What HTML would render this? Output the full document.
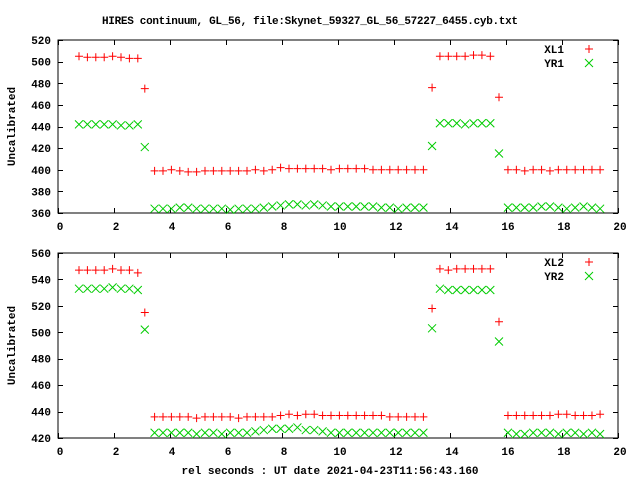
<!DOCTYPE html>
<html><head><meta charset="utf-8"><style>
body{margin:0;background:#fff}
svg{display:block}
text{font-family:"Liberation Mono",monospace;font-weight:bold;font-size:11px;fill:#000}
</style></head><body>
<svg id="c" width="640" height="480" xmlns="http://www.w3.org/2000/svg">
<text x="310" y="24" text-anchor="middle" textLength="416">HIRES continuum, GL_56, file:Skynet_59327_GL_56_57227_6455.cyb.txt</text>
<text x="330" y="474" text-anchor="middle">rel seconds : UT date 2021-04-23T11:56:43.160</text>
</svg>
<script>
const times = [0.75,1.05,1.35,1.65,1.95,2.25,2.55,2.85, 3.1,
 3.45,3.75,4.05,4.35,4.65,4.95,5.25,5.55,5.85,6.15,6.45,6.75,7.05,7.35,7.65,7.95,8.25,8.55,8.85,9.15,9.45,9.75,10.05,10.35,10.65,10.95,11.25,11.55,11.85,12.15,12.45,12.75,13.05,
 13.36, 13.64,13.94,14.24,14.54,14.84,15.14,15.44, 15.75,
 16.07,16.37,16.67,16.97,17.27,17.57,17.87,18.17,18.47,18.77,19.07,19.36];
const xl1 = [505,504,504,504,505,504,503,503, 475,
 399,399,400,399,398,398,399,399,399,399,399,399,400,399,400,402,401,401,401,401,401,400,401,401,401,401,400,400,400,400,400,400,400,
 476, 505,505,505,505,506,506,505, 467,
 400,400,399,400,400,399,400,400,400,400,400,400];
const yr1 = [442,442,442,442,442,441,441,442, 421,
 364,364,364,365,365,364,364,364,364,363,364,364,364,365,366,367,368,368,367,368,367,366,366,366,366,366,366,365,365,364,365,365,365,
 422, 443,443,443,442,443,443,443, 415,
 365,365,365,365,366,366,365,364,365,366,365,364];
const xl2 = [547,547,547,547,548,547,547,545, 515,
 436,436,436,436,436,435,436,436,436,436,435,436,436,436,436,437,438,437,438,438,437,437,437,437,437,437,437,437,436,436,436,436,436,
 518, 548,547,548,548,548,548,548, 508,
 437,437,437,437,437,437,438,438,437,437,437,438];
const yr2 = [533,533,533,533,534,533,533,532, 502,
 424,424,424,424,424,423,424,424,423,424,424,424,425,426,427,427,427,428,426,426,425,424,424,424,424,424,424,424,424,424,424,424,424,
 503, 533,532,532,532,532,532,532, 493,
 424,423,423,424,424,424,423,424,424,423,424,423];
const xTicks = [0,2,4,6,8,10,12,14,16,18,20];
const yTicks1 = [360,380,400,420,440,460,480,500,520];
const yTicks2 = [420,440,460,480,500,520,540,560];

const svg = document.getElementById('c');
const NS = 'http://www.w3.org/2000/svg';
function mk(tag, attrs){const e=document.createElementNS(NS,tag);for(const k in attrs)e.setAttribute(k,attrs[k]);svg.appendChild(e);return e;}

function panel(p){
  const L=58,R=618,T=p.top,B=p.bottom;
  const sx=v=>L+(v-0)/(20-0)*(R-L);
  const sy=v=>B-(v-p.ymin)/(p.ymax-p.ymin)*(B-T);
  const fr=mk('rect',{x:L,y:T,width:R-L,height:B-T,fill:'none',stroke:'#000','stroke-width':1});
  
  
  xTicks.forEach(t=>{
    const x=Math.round(sx(t))+0.5;
    const a=mk('path',{d:`M${x} ${B}v-5M${x} ${T}v5`,stroke:'#000','stroke-width':1});
    
    
    const l=mk('text',{x:sx(t)+2,y:B+17,'text-anchor':'middle'});l.textContent=t;
    
    
  });
  p.yticks.forEach(t=>{
    const y=Math.round(sy(t))+0.5;
    const a=mk('path',{d:`M${L} ${y}h5M${R} ${y}h-5`,stroke:'#000','stroke-width':1});
    
    
    const l=mk('text',{x:51,y:sy(t)+4,'text-anchor':'end'});l.textContent=t;
    
    
  });
  const yt=mk('text',{x:0,y:0,'text-anchor':'middle',transform:`translate(15,${(T+B)/2}) rotate(-90)`});
  yt.textContent='Uncalibrated';
  
  
  function plus(x,y,name){const e=mk('path',{d:`M${x-4} ${y}h8M${x} ${y-4}v8`,stroke:'#f00','stroke-width':1});
    
    }
  function cross(x,y,name){const e=mk('path',{d:`M${x-4} ${y-4}l8 8M${x-4} ${y+4}l8 -8`,stroke:'#0c0','stroke-width':1});
    
    }
  times.forEach((t,i)=>{
    plus(sx(t),sy(p.a[i]),p.na+'-point');
    cross(sx(t),sy(p.b[i]),p.nb+'-point');
  });
  const l1=mk('text',{x:564,y:T+13,'text-anchor':'end'});l1.textContent=p.la;
  
  
  plus(589,T+9,'legend-marker-'+p.na);
  const l2=mk('text',{x:564,y:T+27,'text-anchor':'end'});l2.textContent=p.lb;
  
  
  cross(589,T+23,'legend-marker-'+p.nb);
}
panel({id:'top',top:40,bottom:213,ymin:360,ymax:520,yticks:yTicks1,a:xl1,b:yr1,la:'XL1',lb:'YR1',na:'xl1',nb:'yr1'});
panel({id:'bottom',top:253,bottom:438,ymin:420,ymax:560,yticks:yTicks2,a:xl2,b:yr2,la:'XL2',lb:'YR2',na:'xl2',nb:'yr2'});
</script>
</body></html>
